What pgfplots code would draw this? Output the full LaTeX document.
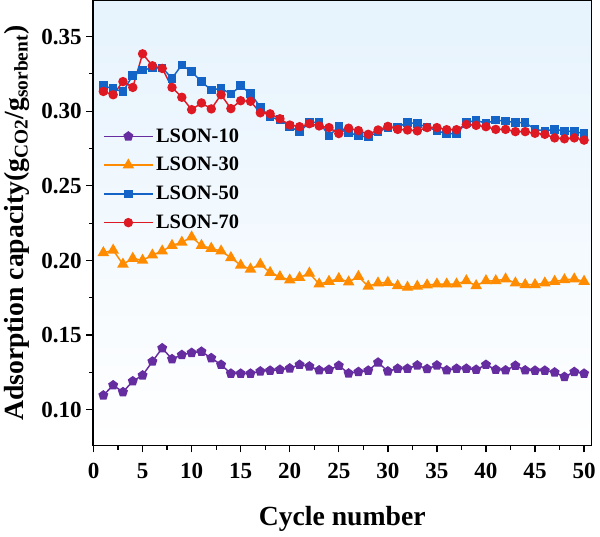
\documentclass[border=0pt]{standalone}
\usepackage{fontspec}
\setmainfont{Liberation Serif}
\usepackage{pgfplots}
\pgfplotsset{compat=1.18}
\definecolor{c10}{RGB}{102,45,160}
\definecolor{c30}{RGB}{255,140,0}
\definecolor{c50}{RGB}{20,100,200}
\definecolor{c70}{RGB}{222,25,35}
\definecolor{bgtop}{RGB}{230,243,253}
\begin{document}
\begin{tikzpicture}
\begin{axis}[
  scale only axis, width=378pt, height=337.5pt,
  xmin=-0.05, xmax=50.75, ymin=0.076, ymax=0.374,
  xtick={0,5,...,50}, ytick={0.10,0.15,0.20,0.25,0.30,0.35},
  minor x tick num=1, minor y tick num=1,
  tick align=outside, xtick pos=bottom, ytick pos=left,
  major tick length=5pt, minor tick length=3pt,
  tick style={line width=1pt, black},
  axis line style={line width=1pt},
  y tick label style={/pgf/number format/.cd, fixed, fixed zerofill, precision=2},
  /pgf/number format/assume math mode=true,
  tick label style={font=\fontsize{17.5}{20}\selectfont\bfseries},
  xticklabel style={yshift=-5pt},
  xlabel={Cycle number},
  ylabel={Adsorption capacity(g\textsubscript{CO2}/g\textsubscript{sorbent})},
  label style={font=\fontsize{21}{24}\selectfont\bfseries},
  xlabel style={yshift=-14pt},
  ylabel style={yshift=2pt},
  axis background/.style={top color=bgtop, bottom color=white},
  legend style={at={(0.012,0.725)}, anchor=north west, draw=none, fill=none,
    font=\fontsize{15.5}{18}\selectfont\bfseries, row sep=6pt},
  legend cell align=left,
  legend image code/.code={\draw[mark repeat=2,mark phase=2,#1] plot coordinates {(0cm,0cm) (0.65cm,0cm) (1.3cm,0cm)};},
  every axis plot/.append style={line width=1.1pt},
]
\addplot[c10, mark=pentagon*, mark size=3.3pt, mark options={solid, fill=c10}] coordinates {
(1,0.1097)(2,0.1165)(3,0.1119)(4,0.1192)(5,0.1231)(6,0.1324)(7,0.1413)(8,0.1340)(9,0.1368)(10,0.1382)
(11,0.1390)(12,0.1347)(13,0.1302)(14,0.1243)(15,0.1243)(16,0.1243)(17,0.1258)(18,0.1263)(19,0.1269)(20,0.1278)
(21,0.1302)(22,0.1291)(23,0.1265)(24,0.1269)(25,0.1296)(26,0.1244)(27,0.1254)(28,0.1263)(29,0.1317)(30,0.1258)
(31,0.1276)(32,0.1276)(33,0.1298)(34,0.1274)(35,0.1298)(36,0.1265)(37,0.1276)(38,0.1276)(39,0.1269)(40,0.1302)
(41,0.1269)(42,0.1265)(43,0.1296)(44,0.1265)(45,0.1263)(46,0.1263)(47,0.1251)(48,0.1221)(49,0.1254)(50,0.1243)
};
\addlegendentry{LSON-10}
\addplot[c30, mark=triangle*, mark size=4pt, mark options={solid, fill=c30}] coordinates {
(1,0.2052)(2,0.2069)(3,0.1975)(4,0.2014)(5,0.2001)(6,0.2036)(7,0.2063)(8,0.2100)(9,0.2122)(10,0.2157)
(11,0.2100)(12,0.2081)(13,0.2063)(14,0.2019)(15,0.1968)(16,0.1942)(17,0.1975)(18,0.1919)(19,0.1891)(20,0.1869)
(21,0.1886)(22,0.1915)(23,0.1842)(24,0.1860)(25,0.1879)(26,0.1856)(27,0.1893)(28,0.1827)(29,0.1849)(30,0.1853)
(31,0.1831)(32,0.1820)(33,0.1827)(34,0.1836)(35,0.1842)(36,0.1842)(37,0.1842)(38,0.1864)(39,0.1831)(40,0.1864)
(41,0.1864)(42,0.1876)(43,0.1849)(44,0.1838)(45,0.1838)(46,0.1849)(47,0.1860)(48,0.1871)(49,0.1876)(50,0.1860)
};
\addlegendentry{LSON-30}
\addplot[c50, mark=square*, mark size=2.7pt, mark options={solid, fill=c50}] coordinates {
(1,0.3170)(2,0.3150)(3,0.3130)(4,0.3240)(5,0.3275)(6,0.3290)(7,0.3290)(8,0.3220)(9,0.3310)(10,0.3264)
(11,0.3198)(12,0.3141)(13,0.3154)(14,0.3114)(15,0.3170)(16,0.3117)(17,0.3028)(18,0.2960)(19,0.2944)(20,0.2896)
(21,0.2863)(22,0.2923)(23,0.2927)(24,0.2835)(25,0.2897)(26,0.2857)(27,0.2835)(28,0.2828)(29,0.2861)(30,0.2890)
(31,0.2894)(32,0.2923)(33,0.2916)(34,0.2894)(35,0.2868)(36,0.2850)(37,0.2850)(38,0.2923)(39,0.2940)(40,0.2918)
(41,0.2940)(42,0.2934)(43,0.2923)(44,0.2923)(45,0.2878)(46,0.2868)(47,0.2878)(48,0.2868)(49,0.2863)(50,0.2850)
};
\addlegendentry{LSON-50}
\addplot[c70, mark=*, mark size=3pt, mark options={solid, fill=c70}] coordinates {
(1,0.3132)(2,0.3110)(3,0.3198)(4,0.3159)(5,0.3384)(6,0.3304)(7,0.3286)(8,0.3159)(9,0.3093)(10,0.3010)
(11,0.3055)(12,0.3015)(13,0.3110)(14,0.3017)(15,0.3070)(16,0.3066)(17,0.2989)(18,0.2982)(19,0.2949)(20,0.2907)
(21,0.2896)(22,0.2916)(23,0.2901)(24,0.2890)(25,0.2850)(26,0.2886)(27,0.2870)(28,0.2845)(29,0.2874)(30,0.2898)
(31,0.2878)(32,0.2874)(33,0.2868)(34,0.2890)(35,0.2890)(36,0.2876)(37,0.2876)(38,0.2911)(39,0.2905)(40,0.2896)
(41,0.2878)(42,0.2878)(43,0.2863)(44,0.2863)(45,0.2852)(46,0.2845)(47,0.2821)(48,0.2815)(49,0.2821)(50,0.2806)
};
\addlegendentry{LSON-70}
\end{axis}
\end{tikzpicture}
\end{document}
